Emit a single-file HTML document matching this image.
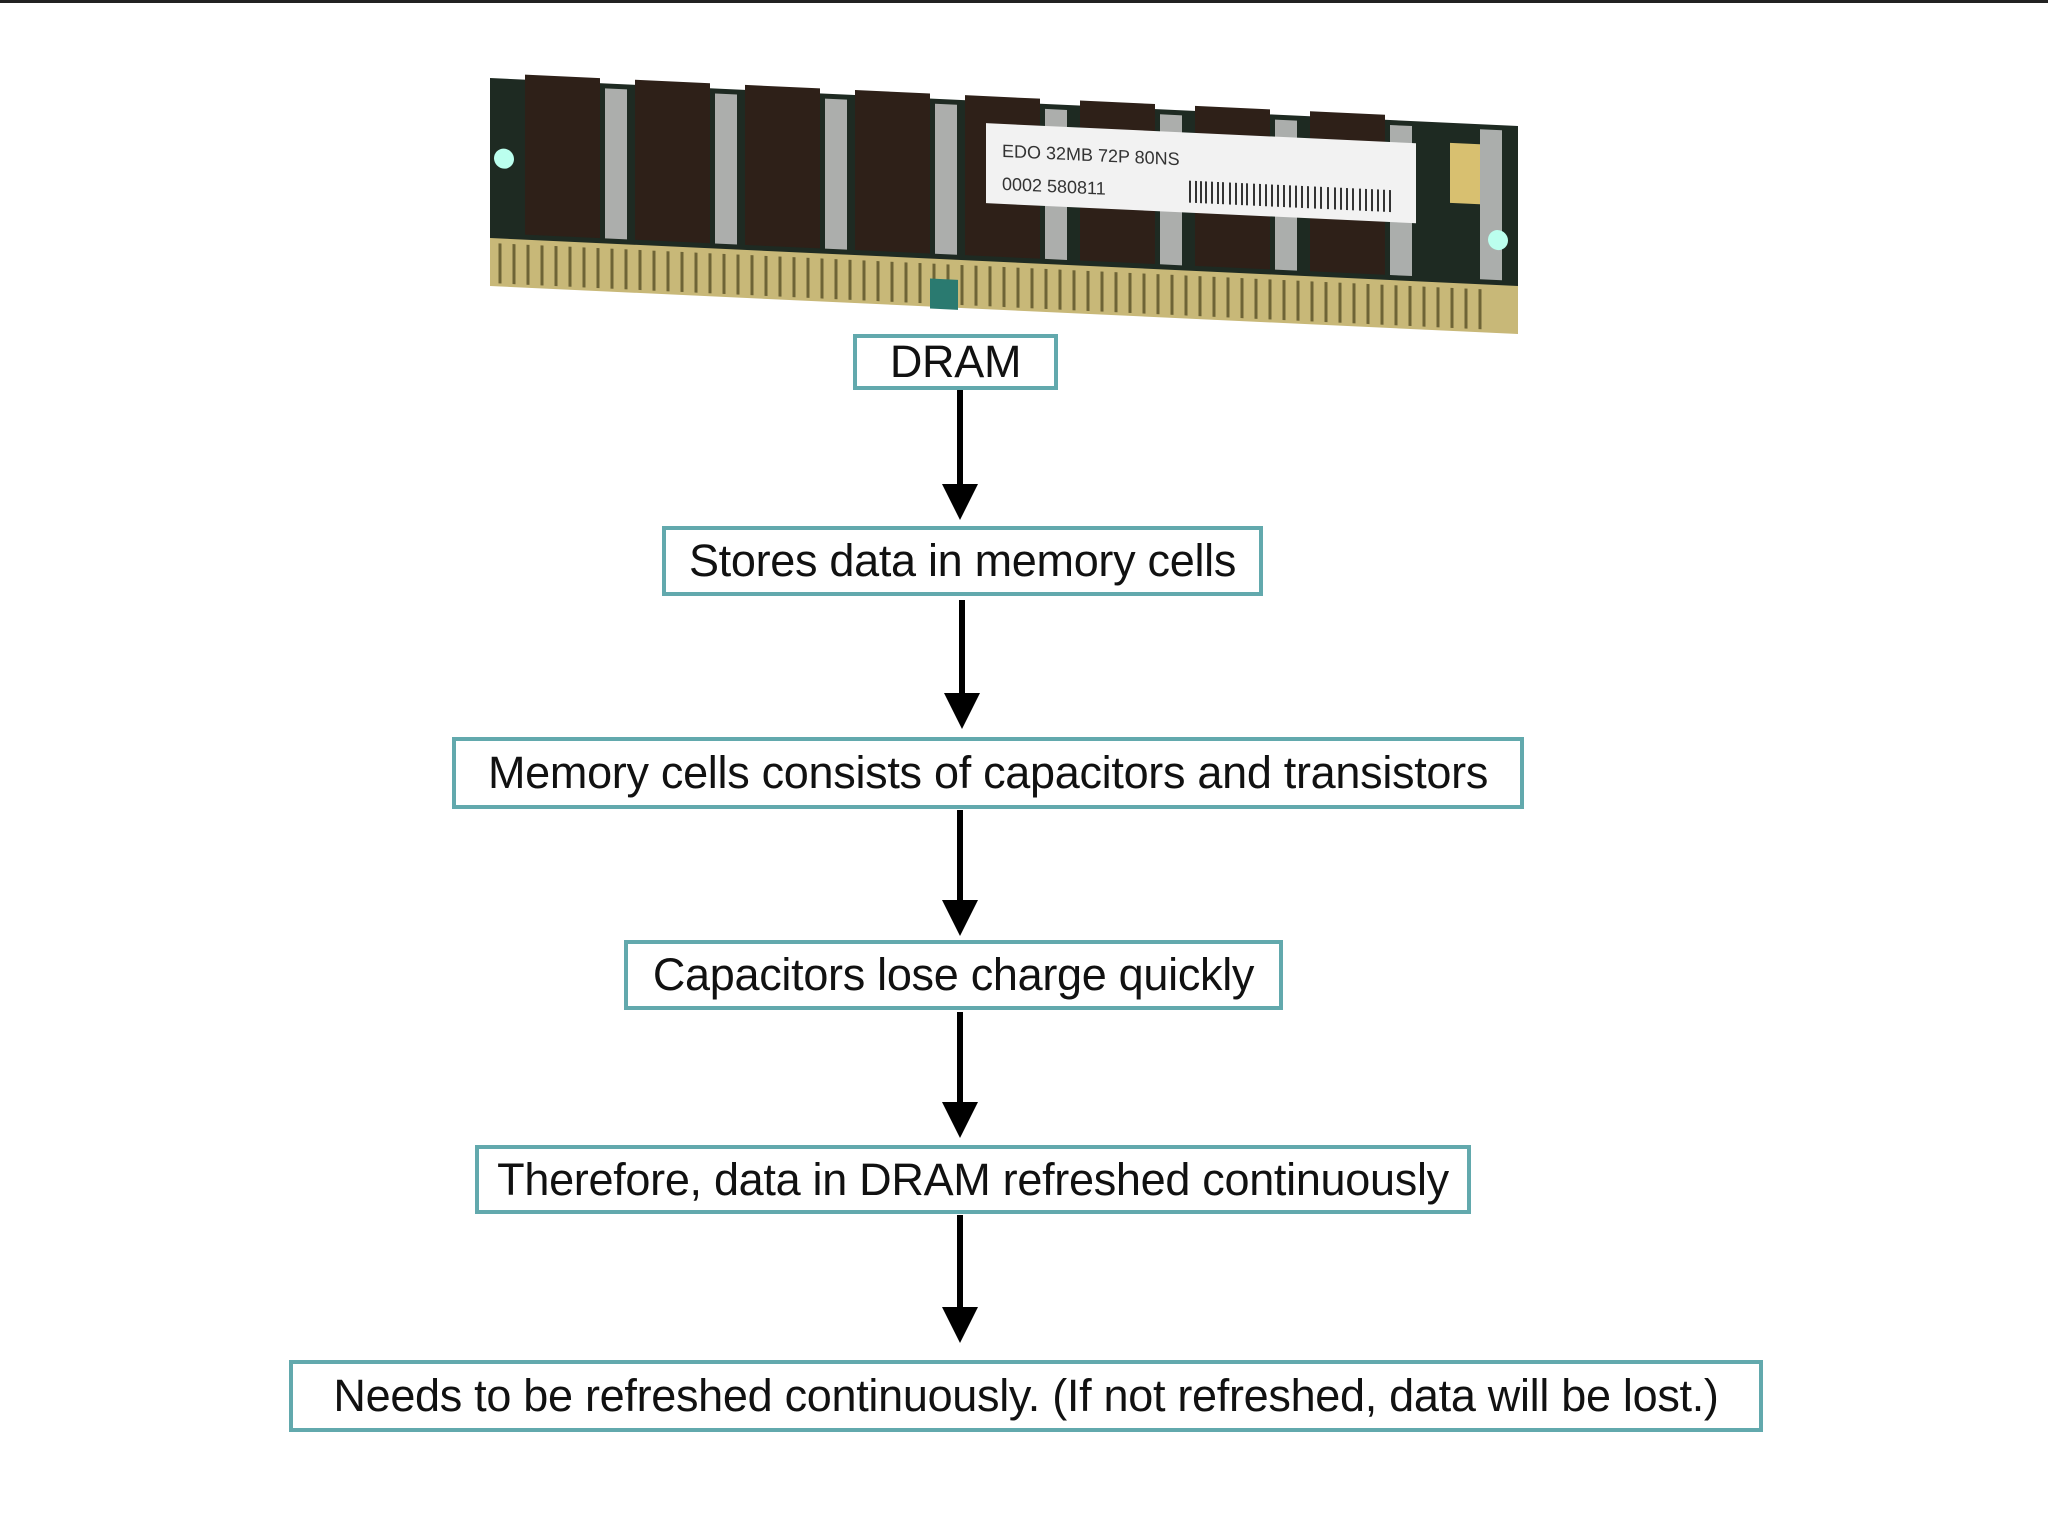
<!DOCTYPE html>
<html><head><meta charset="utf-8"><style>
body{margin:0;width:2048px;height:1536px;background:#fff;position:relative;overflow:hidden;font-family:"Liberation Sans",Arial,sans-serif;}
.top{position:absolute;left:0;top:0;width:2048px;height:3px;background:#222;}
.b{position:absolute;box-sizing:border-box;border:4px solid #62a9ad;background:#fff;font-size:45px;color:#111;display:flex;align-items:center;justify-content:center;white-space:nowrap;letter-spacing:-0.3px;}
svg{position:absolute;left:0;top:0;}
</style></head><body>
<div class="top"></div>
<svg width="2048" height="1536">
<defs><marker id="a" markerWidth="6" markerHeight="6" refX="3" refY="3" orient="auto" markerUnits="strokeWidth"><path d="M0,0 L6,3 L0,6z" fill="#000"/></marker></defs>
<g transform="translate(490,78) matrix(1,0.0467,0,1,0,0)">
<rect x="0" y="0" width="1028" height="200" fill="#1e2a22"/>
<rect x="0" y="160" width="1028" height="48" fill="#c8b878"/>
<g stroke="#6e6436" stroke-width="3">
<path d="M10,165v40M24,165v40M38,165v40M52,165v40M66,165v40M80,165v40M94,165v40M108,165v40M122,165v40M136,165v40M150,165v40M164,165v40M178,165v40M192,165v40M206,165v40M220,165v40M234,165v40M248,165v40M262,165v40M276,165v40M290,165v40M304,165v40M318,165v40M332,165v40M346,165v40M360,165v40M374,165v40M388,165v40M402,165v40M416,165v40M430,165v40M444,165v40M458,165v40M472,165v40M486,165v40M500,165v40M514,165v40M528,165v40M542,165v40M556,165v40M570,165v40M584,165v40M598,165v40M612,165v40M626,165v40M640,165v40M654,165v40M668,165v40M682,165v40M696,165v40M710,165v40M724,165v40M738,165v40M752,165v40M766,165v40M780,165v40M794,165v40M808,165v40M822,165v40M836,165v40M850,165v40M864,165v40M878,165v40M892,165v40M906,165v40M920,165v40M934,165v40M948,165v40M962,165v40M976,165v40M990,165v40"/>
</g>
<rect x="440" y="180" width="28" height="30" fill="#2a7a70"/>
<g fill="#2e2018">
<rect x="35" y="-5" width="75" height="160"/><rect x="145" y="-5" width="75" height="160"/>
<rect x="255" y="-5" width="75" height="160"/><rect x="365" y="-5" width="75" height="160"/>
<rect x="475" y="-5" width="75" height="160"/><rect x="590" y="-5" width="75" height="160"/>
<rect x="705" y="-5" width="75" height="160"/><rect x="820" y="-5" width="75" height="160"/>
</g>
<g fill="#cfcfcf" opacity="0.8">
<rect x="115" y="5" width="22" height="150"/><rect x="225" y="5" width="22" height="150"/>
<rect x="335" y="5" width="22" height="150"/><rect x="445" y="5" width="22" height="150"/>
<rect x="555" y="5" width="22" height="150"/><rect x="670" y="5" width="22" height="150"/>
<rect x="785" y="5" width="22" height="150"/><rect x="900" y="5" width="22" height="150"/>
<rect x="990" y="5" width="22" height="150"/>
</g>
<circle cx="14" cy="80" r="10" fill="#bfe"/>
<circle cx="1008" cy="115" r="10" fill="#bfe"/>
<rect x="960" y="20" width="30" height="60" fill="#d8c070"/>
<rect x="496" y="22" width="430" height="80" fill="#f2f2f2"/>
<text x="512" y="55" font-size="18" fill="#333" font-family="Liberation Sans">EDO 32MB 72P 80NS</text>
<text x="512" y="88" font-size="18" fill="#333" font-family="Liberation Sans">0002  580811</text>
<g stroke="#333" stroke-width="2"><path d="M700,70v22M706,70v22M711,70v22M716,70v22M722,70v22M728,70v22M733,70v22M740,70v22M746,70v22M752,70v22M757,70v22M764,70v22M770,70v22M776,70v22M782,70v22M788,70v22M794,70v22M800,70v22M806,70v22M812,70v22M818,70v22M825,70v22M831,70v22M838,70v22M845,70v22M851,70v22M857,70v22M863,70v22M870,70v22M876,70v22M882,70v22M888,70v22M894,70v22M900,70v22"/></g>
</g>
<g stroke="#000" stroke-width="6" marker-end="url(#a)">
<line x1="960" y1="389" x2="960" y2="502"/>
<line x1="962" y1="600" x2="962" y2="711"/>
<line x1="960" y1="810" x2="960" y2="918"/>
<line x1="960" y1="1012" x2="960" y2="1120"/>
<line x1="960" y1="1215" x2="960" y2="1325"/>
</g>
</svg>
<div class="b" style="left:853px;top:334px;width:205px;height:56px">DRAM</div>
<div class="b" style="left:662px;top:526px;width:601px;height:70px">Stores data in memory cells</div>
<div class="b" style="left:452px;top:737px;width:1072px;height:72px">Memory cells consists of capacitors and transistors</div>
<div class="b" style="left:624px;top:940px;width:659px;height:70px">Capacitors lose charge quickly</div>
<div class="b" style="left:475px;top:1145px;width:996px;height:69px">Therefore, data in DRAM refreshed continuously</div>
<div class="b" style="left:289px;top:1360px;width:1474px;height:72px">Needs to be refreshed continuously. (If not refreshed, data will be lost.)</div>
</body></html>
